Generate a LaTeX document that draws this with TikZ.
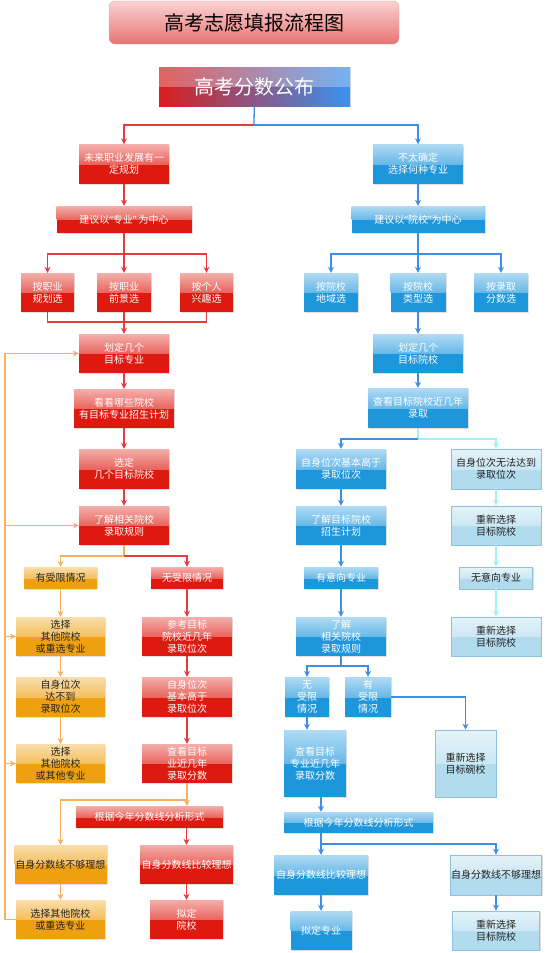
\documentclass[tikz,border=0pt]{standalone}
\usepackage{fontspec}
\setmainfont{Noto Sans CJK SC}
\newfontfamily\gkQuote{Noto Sans}
\definecolor{gkRed}{HTML}{DE1A10}
\definecolor{gkRedLine}{HTML}{E83A3A}
\definecolor{gkBlue}{HTML}{1E96DC}
\definecolor{gkBlueLine}{HTML}{3C8EE6}
\definecolor{gkScoreRed}{HTML}{D81E1E}
\definecolor{gkScoreBlue}{HTML}{3A92F0}
\definecolor{gkOrange}{HTML}{EFA010}
\definecolor{gkOrangeLine}{HTML}{F6B060}
\definecolor{gkSky}{HTML}{B2DCEE}
\definecolor{gkSkyEdge}{HTML}{8CC2DC}
\definecolor{gkSkyLine}{HTML}{9EF2F8}
\definecolor{gkTitle}{HTML}{E97373}
\definecolor{gkTitleTop}{HTML}{FAD2D2}
\definecolor{gkText}{HTML}{222222}
\usepackage{tikz}
\usetikzlibrary{arrows.meta,shadows}

\begin{document}
\begin{tikzpicture}[x=1pt, y=-1pt,
  box/.style={minimum width=90pt, minimum height=39pt, inner sep=0pt, align=center,
    font=\fontsize{10}{12}\selectfont,
    drop shadow={shadow xshift=1pt, shadow yshift=-1pt, opacity=0.25}},
  gloss/.style={path picture={\shade[top color=white!65!#1, bottom color=#1]
    (path picture bounding box.north west) rectangle (path picture bounding box.east);}},
  redbox/.style={box, fill=gkRed, text=white, gloss=gkRed},
  bluebox/.style={box, fill=gkBlue, text=white, gloss=gkBlue},
  orangebox/.style={box, fill=gkOrange, text=gkText, gloss=gkOrange},
  skybox/.style={box, fill=gkSky, draw=gkSkyEdge, line width=0.6pt, text=gkText, gloss=gkSky},
  link/.style={line width=1.3pt},
  arr/.style={link, -{Stealth[length=6pt, width=6pt]}},
  redline/.style={link, gkRedLine}, redarr/.style={arr, gkRedLine},
  blueline/.style={link, gkBlueLine}, bluearr/.style={arr, gkBlueLine},
  orangeline/.style={link, gkOrangeLine}, orangearr/.style={arr, gkOrangeLine},
  skyline/.style={link, gkSkyLine}, skyarr/.style={arr, gkSkyLine}]
  \useasboundingbox (0,0) rectangle (544,953);

  % Title and score release
  \node[rounded corners=6pt, minimum width=290pt, minimum height=43pt, top color=gkTitleTop,
    bottom color=gkTitle, draw=gkTitle!70, font=\fontsize{20}{24}\selectfont, text=black]
    (title) at (254,22.5) {高考志愿填报流程图};
  \node[box, minimum width=191pt, left color=gkScoreRed, right color=gkScoreBlue, text=white,
    font=\fontsize{20}{24}\selectfont,
    path picture={\fill[white, opacity=0.3] (path picture bounding box.north west) rectangle (path picture bounding box.east);}]
    (score) at (254.5,86.5) {高考分数公布};

  % Left branch: major first
  \node[redbox] (planYes) at (124,164) {未来职业发展有一\\定规划};
  \node[redbox, minimum width=135pt, minimum height=27pt] (majorCenter) at (124,219.5) {建议以{\gkQuote “}专业{\gkQuote ”} 为中心};
  \node[redbox, minimum width=53pt] (byPlan) at (47.5,292.5) {按职业\\规划选};
  \node[redbox, minimum width=54pt] (byProspect) at (124,292.5) {按职业\\前景选};
  \node[redbox, minimum width=53pt] (byInterest) at (206.5,292.5) {按个人\\兴趣选};
  \node[redbox] (majorPick) at (124,353.5) {划定几个\\目标专业};
  \node[redbox, minimum width=100pt] (schoolsWith) at (124,408.5) {看看哪些院校\\有目标专业招生计划};
  \node[redbox, minimum height=40pt] (schoolsPick) at (124,469) {选定\\几个目标院校};
  \node[redbox] (rulesL) at (124,525.5) {了解相关院校\\录取规则};
  \node[orangebox, minimum width=73pt, minimum height=22pt] (limitYes) at (60.5,578) {有受限情况};
  \node[redbox, minimum width=72pt, minimum height=22pt] (limitNo) at (187,578) {无受限情况};
  \node[orangebox, minimum width=89pt] (altMajor) at (60.5,636.5) {选择\\其他院校\\或重选专业};
  \node[redbox] (refRank) at (187,636.5) {参考目标\\院校近几年\\录取位次};
  \node[orangebox, minimum width=89pt, minimum height=40pt] (rankLow) at (60.5,697) {自身位次\\达不到\\录取位次};
  \node[redbox, minimum height=40pt] (rankHigh) at (187,697) {自身位次\\基本高于\\录取位次};
  \node[orangebox, minimum width=89pt] (altOther) at (60.5,763.5) {选择\\其他院校\\或其他专业};
  \node[redbox] (majorScoreL) at (187,763.5) {查看目标\\业近几年\\录取分数};
  \node[redbox, minimum width=147pt, minimum height=22pt] (trendL) at (149.5,817) {根据今年分数线分析形式};
  \node[orangebox, minimum width=92pt] (lineLow) at (60.5,864.5) {自身分数线不够理想};
  \node[redbox, minimum width=93pt] (lineGood) at (186.5,864.5) {自身分数线比较理想};
  \node[orangebox, minimum width=89pt] (altFinal) at (60.5,919.5) {选择其他院校\\或重选专业};
  \node[redbox, minimum width=73pt] (pickSchool) at (186.5,919.5) {拟定\\院校};

  % Right branch: school first
  \node[bluebox] (planNo) at (418,164) {不太确定\\选择何种专业};
  \node[bluebox, minimum width=133pt, minimum height=27pt] (schoolCenter) at (418,219.5) {建议以{\gkQuote “}院校{\gkQuote ”}为中心};
  \node[bluebox, minimum width=54pt] (byRegion) at (331,292.5) {按院校\\地域选};
  \node[bluebox, minimum width=55pt] (byType) at (418,292.5) {按院校\\类型选};
  \node[bluebox, minimum width=54pt] (byScore) at (501,292.5) {按录取\\分数选};
  \node[bluebox] (schoolPick) at (418,353.5) {划定几个\\目标院校};
  \node[bluebox, minimum width=100pt, minimum height=40pt] (recentScore) at (418,408) {查看目标院校近几年\\录取};
  \node[bluebox, minimum height=40pt] (rankHighR) at (341,469) {自身位次基本高于\\录取位次};
  \node[skybox, minimum height=40pt] (rankLowR) at (496,469) {自身位次无法达到\\录取位次};
  \node[bluebox] (enrolPlan) at (341,525.5) {了解目标院校\\招生计划};
  \node[skybox] (reselA) at (496,525.5) {重新选择\\目标院校};
  \node[bluebox, minimum width=74pt, minimum height=22pt] (withMajor) at (341,578) {有意向专业};
  \node[skybox, minimum width=73pt, minimum height=22pt] (noMajor) at (496,578) {无意向专业};
  \node[bluebox] (rulesR) at (341,636.5) {了解\\相关院校\\录取规则};
  \node[skybox] (reselB) at (496,636.5) {重新选择\\目标院校};
  \node[bluebox, minimum width=44pt, minimum height=40pt] (limitNoR) at (307,697) {无\\受限\\情况};
  \node[bluebox, minimum width=46pt, minimum height=40pt] (limitYesR) at (368,697) {有\\受限\\情况};
  \node[bluebox, minimum width=62pt, minimum height=67pt] (majorScoreR) at (315,763.5) {查看目标\\专业近几年\\录取分数};
  \node[skybox, minimum width=61pt, minimum height=67pt] (reselC) at (465.5,763.5) {重新选择\\目标碗校};
  \node[bluebox, minimum width=149pt, minimum height=21pt] (trendR) at (358.5,822.5) {根据今年分数线分析形式};
  \node[bluebox, minimum width=94pt, minimum height=40pt] (lineGoodR) at (321,875) {自身分数线比较理想};
  \node[skybox, minimum width=91pt, minimum height=40pt] (lineLowR) at (496,875) {自身分数线不够理想};
  \node[bluebox, minimum width=61pt] (pickMajor) at (321,930.5) {拟定专业};
  \node[skybox, minimum width=87pt] (reselD) at (496,930.5) {重新选择\\目标院校};

  % Junctions
  \coordinate (topSplit) at (254,125);
  \coordinate (majorSplit) at (124,254);
  \coordinate (majorJoin) at (124,322);
  \coordinate (limitSplit) at (124,556);
  \coordinate (trendSplit) at (187,800);
  \coordinate (loopTop) at (5,353.5);
  \coordinate (loopBot) at (5,919.5);
  \coordinate (schoolSplit) at (418,254);
  \coordinate (rankSplit) at (418,439);
  \coordinate (limitSplitR) at (341,666);
  \coordinate (trendSplitR) at (321,844);

  % Score release splits in two
  \draw[blueline] (score) -- (topSplit);
  \draw[redarr] (topSplit) -| (planYes);
  \draw[bluearr] (topSplit) -| (planNo);

  % Left connectors
  \draw[redarr] (planYes) -- (majorCenter);
  \draw[redarr] (majorCenter) -- (byProspect);
  \draw[redarr] (majorSplit) -| (byPlan);
  \draw[redarr] (majorSplit) -| (byInterest);
  \draw[redline] (byPlan) |- (majorJoin) -| (byInterest);
  \draw[redarr] (byProspect) -- (majorPick);
  \draw[redarr] (majorPick) -- (schoolsWith);
  \draw[redarr] (schoolsWith) -- (schoolsPick);
  \draw[redarr] (schoolsPick) -- (rulesL);
  \draw[orangeline] (rulesL) -- (limitSplit);
  \draw[orangearr] (limitSplit) -| (limitYes);
  \draw[redarr] (limitSplit) -| (limitNo);
  \draw[orangearr] (limitYes) -- (altMajor);
  \draw[orangearr] (altMajor) -- (rankLow);
  \draw[orangearr] (rankLow) -- (altOther);
  \draw[redarr] (limitNo) -- (refRank);
  \draw[redarr] (refRank) -- (rankHigh);
  \draw[redarr] (rankHigh) -- (majorScoreL);
  \draw[orangearr] (majorScoreL.south) -- (majorScoreL.south |- trendL.north);
  \draw[orangearr] (trendSplit) -| (lineLow);
  \draw[redarr] (trendL.south -| lineGood) -- (lineGood);
  \draw[redarr] (lineGood) -- (pickSchool);
  \draw[orangearr] (lineLow) -- (altFinal);
  % feedback loop on the far left
  \draw[orangearr] (altFinal) -- (loopBot) -- (loopTop) -- (majorPick);
  \draw[orangearr] (loopTop |- rulesL) -- (rulesL);
  \draw[orangearr] (loopTop |- altMajor) -- (altMajor);
  \draw[orangearr] (loopTop |- altOther) -- (altOther);

  % Right connectors
  \draw[bluearr] (planNo) -- (schoolCenter);
  \draw[bluearr] (schoolCenter) -- (byType);
  \draw[bluearr] (schoolSplit) -| (byRegion);
  \draw[bluearr] (schoolSplit) -| (byScore);
  \draw[bluearr] (byType) -- (schoolPick);
  \draw[bluearr] (schoolPick) -- (recentScore);
  \draw[skyline] (recentScore) -- (rankSplit);
  \draw[bluearr] (rankSplit) -| (rankHighR);
  \draw[skyarr] (rankSplit) -| (rankLowR);
  \draw[bluearr] (rankHighR) -- (enrolPlan);
  \draw[bluearr] (enrolPlan) -- (withMajor);
  \draw[bluearr] (withMajor) -- (rulesR);
  \draw[skyarr] (rankLowR) -- (reselA);
  \draw[skyarr] (reselA) -- (noMajor);
  \draw[skyarr] (noMajor) -- (reselB);
  \draw[blueline] (rulesR) -- (limitSplitR);
  \draw[bluearr] (limitSplitR) -| (limitNoR);
  \draw[bluearr] (limitSplitR) -| (limitYesR);
  \draw[bluearr] (limitYesR) -| (reselC);
  \draw[bluearr] (limitNoR) -- (limitNoR |- majorScoreR.north);
  \draw[bluearr] (majorScoreR.south -| lineGoodR) -- (trendR.north -| lineGoodR);
  \draw[bluearr] (trendR.south -| lineGoodR) -- (lineGoodR);
  \draw[bluearr] (trendSplitR) -| (lineLowR);
  \draw[bluearr] (lineGoodR) -- (pickMajor);
  \draw[bluearr] (lineLowR) -- (reselD);
\end{tikzpicture}
\end{document}
